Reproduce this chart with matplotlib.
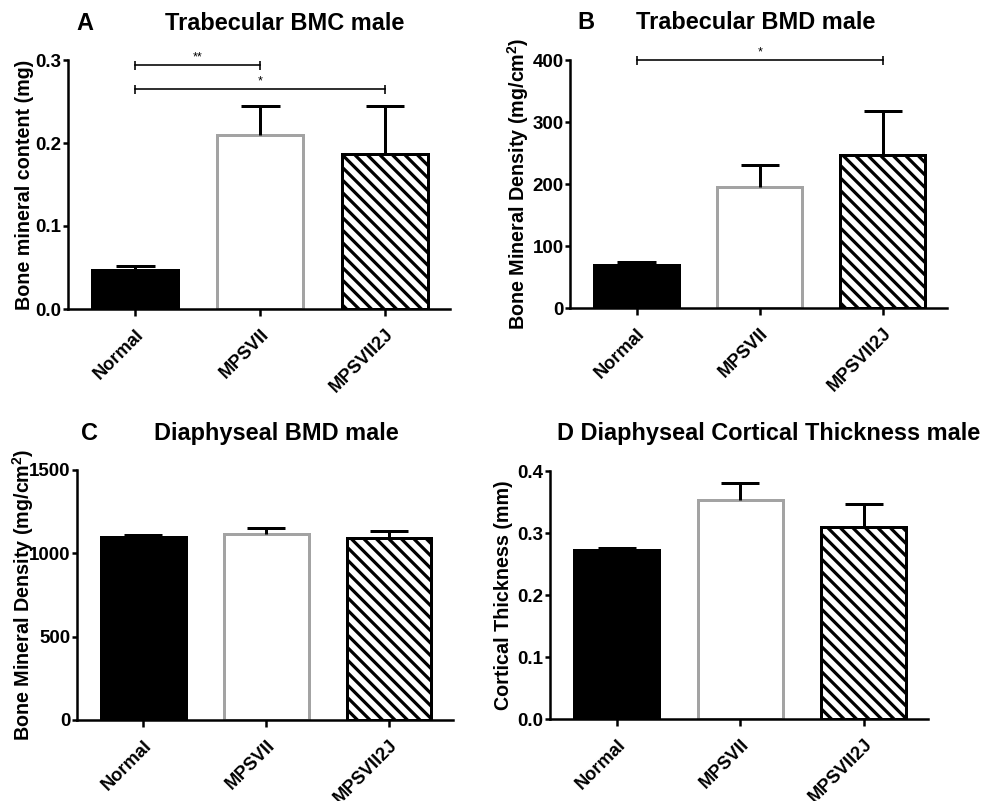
import numpy as np
import matplotlib.pyplot as plt

DPI = 75


def pt(px):
    # pixel size -> points at this dpi
    return px * 72.0 / DPI


groups = ['Normal', 'MPSVII', 'MPSVII2J']

# A - trabecular BMC (mg)
bmc_mean = [0.047, 0.210, 0.187]
bmc_err = [0.005, 0.035, 0.058]
bmc_ticks = [0.0, 0.1, 0.2, 0.3]
bmc_ticklabels = ['0.0', '0.1', '0.2', '0.3']
bmc_sig = [(0, 1, '**', 0.294), (0, 2, '*', 0.265)]

# B - trabecular BMD (mg/cm2)
tbmd_mean = [70, 195, 247]
tbmd_err = [5, 35, 71]
tbmd_ticks = [0, 100, 200, 300, 400]
tbmd_ticklabels = ['0', '100', '200', '300', '400']
tbmd_sig = [(0, 2, '*', 400)]

# C - diaphyseal BMD (mg/cm2)
dbmd_mean = [1100, 1116, 1090]
dbmd_err = [10, 34, 44]
dbmd_ticks = [0, 500, 1000, 1500]
dbmd_ticklabels = ['0', '500', '1000', '1500']

# D - cortical thickness (mm)
ct_mean = [0.272, 0.354, 0.310]
ct_err = [0.004, 0.027, 0.036]
ct_ticks = [0.0, 0.1, 0.2, 0.3, 0.4]
ct_ticklabels = ['0.0', '0.1', '0.2', '0.3', '0.4']

plt.rcParams['font.family'] = ['Liberation Sans', 'DejaVu Sans']
plt.rcParams['font.weight'] = 'bold'
plt.rcParams['axes.labelweight'] = 'bold'
plt.rcParams['mathtext.fontset'] = 'custom'
plt.rcParams['mathtext.rm'] = 'Liberation Sans:bold'
plt.rcParams['mathtext.it'] = 'Liberation Sans:bold'
plt.rcParams['mathtext.bf'] = 'Liberation Sans:bold'
plt.rcParams['hatch.linewidth'] = pt(3.2)
plt.rcParams['hatch.color'] = 'black'

W, H = 995, 801
fig = plt.figure(figsize=(W / DPI, H / DPI), dpi=DPI)


def make_axes(left, top, right, bottom):
    return fig.add_axes([left / W, 1 - bottom / H, (right - left) / W, (bottom - top) / H])


def draw_panel(ax, means, errs, ticks, ticklabels, ylabel, label_x, sigs=()):
    x = np.arange(len(groups))
    means = np.array(means, dtype=float)
    errs = np.array(errs, dtype=float)
    w = 0.69
    lw = pt(3)
    ax.bar(x[0], means[0], w, color='black', edgecolor='black', linewidth=lw, zorder=2)
    ax.bar(x[1], means[1], w, facecolor='white', edgecolor='#a3a3a3', linewidth=lw, zorder=2)
    ax.bar(x[2], means[2], w, facecolor='white', edgecolor='black', linewidth=lw,
           hatch='\\\\', zorder=2)
    # upper error bars only
    ax.vlines(x, means, means + errs, color='black', linewidth=lw, zorder=3)
    ax.hlines(means + errs, x - 0.155, x + 0.155, color='black', linewidth=lw, zorder=3)

    ax.set_xlim(-0.54, 2.52)
    ax.set_ylim(ticks[0], ticks[-1])
    ax.set_yticks(ticks, ticklabels)
    ax.set_xticks(x, groups, rotation=45, ha='right', va='top',
                  rotation_mode='anchor', fontsize=17.5)
    for s in ['top', 'right']:
        ax.spines[s].set_visible(False)
    for s in ['left', 'bottom']:
        ax.spines[s].set_linewidth(pt(2.5))
    ax.tick_params(axis='y', length=pt(5), width=pt(2.5), labelsize=18, pad=pt(1.5))
    ax.tick_params(axis='x', length=pt(7), width=pt(2.5), pad=pt(10))
    ax.set_ylabel(ylabel, fontsize=19, fontweight='bold')
    l, r = ax.get_position().x0 * W, ax.get_position().x1 * W
    ax.yaxis.set_label_coords((label_x - l) / (r - l), 0.5)

    for x0, x1, star, y in sigs:
        ax.plot([x0, x1], [y, y], color='black', linewidth=pt(1.6), clip_on=False,
                marker='|', markersize=pt(9), markeredgewidth=pt(1.6), zorder=4)
        ax.annotate(star, ((x0 + x1) / 2, y), xytext=(0, pt(2)), textcoords='offset points',
                    ha='center', va='bottom', fontsize=12, fontweight='normal',
                    annotation_clip=False)


axA = make_axes(68, 60, 450, 309)
draw_panel(axA, bmc_mean, bmc_err, bmc_ticks, bmc_ticklabels,
           'Bone mineral content (mg)', 34, bmc_sig)
axB = make_axes(570, 60, 947, 308)
draw_panel(axB, tbmd_mean, tbmd_err, tbmd_ticks, tbmd_ticklabels,
           'Bone Mineral Density (mg/cm$^{2}$)', 531, tbmd_sig)
axC = make_axes(77, 470, 453, 720)
draw_panel(axC, dbmd_mean, dbmd_err, dbmd_ticks, dbmd_ticklabels,
           'Bone Mineral Density (mg/cm$^{2}$)', 36)
axD = make_axes(550, 471, 928, 719)
draw_panel(axD, ct_mean, ct_err, ct_ticks, ct_ticklabels,
           'Cortical Thickness (mm)', 513)


def fig_text(px, py, s):
    fig.text(px / W, 1 - py / H, s, ha='left', va='baseline', fontsize=22.5, fontweight='bold')


fig_text(76, 30, 'A')
fig_text(165, 30, 'Trabecular BMC male')
fig_text(577, 29, 'B')
fig_text(636, 29, 'Trabecular BMD male')
fig_text(81, 440, 'C')
fig_text(154, 440, 'Diaphyseal BMD male')
fig_text(557, 440, 'D Diaphyseal Cortical Thickness male')

fig.savefig('out.png', dpi=DPI)
